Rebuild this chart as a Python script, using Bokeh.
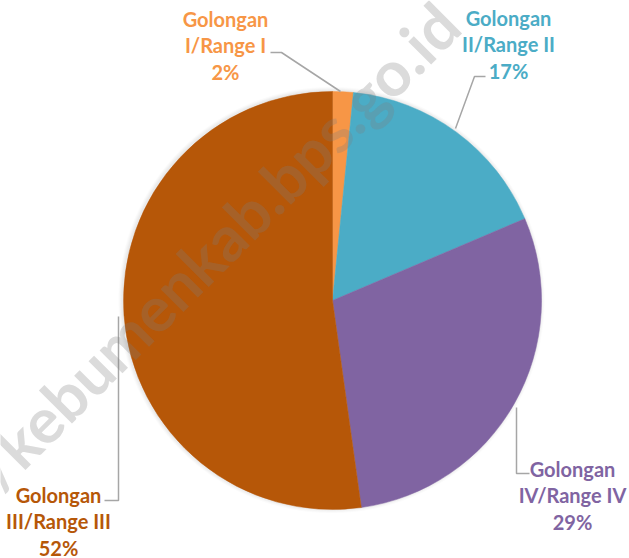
import math
from bokeh.plotting import figure
from bokeh.models import Range1d, ColumnDataSource
from bokeh.core.properties import value
from bokeh.embed import file_html
from bokeh.resources import INLINE

# ---- data ----
categories = ["Golongan I/Range I", "Golongan II/Range II", "Golongan IV/Range IV", "Golongan III/Range III"]
label_line1 = ["Golongan", "Golongan", "Golongan", "Golongan"]
label_line2 = ["I/Range I", "II/Range II", "IV/Range IV", "III/Range III"]
shares = [1.6, 17.0, 29.2, 52.2]
colors = ["#F79646", "#4BACC6", "#8064A2", "#B65708"]
watermark = "https://kebumenkab.bps.go.id"

W, H = 629, 558


def Y(py):
    return H - py  # flip so that y grows upward


p = figure(width=W, height=H, output_backend="svg", toolbar_location=None,
           x_range=Range1d(0, W), y_range=Range1d(0, H),
           min_border=0, outline_line_color=None, background_fill_color="white",
           border_fill_color="white")
p.axis.visible = False
p.grid.visible = False

cx, cy, R = 332, Y(300), 209

# soft shadow
for i, a in enumerate([0.05, 0.05, 0.04, 0.03]):
    p.circle(x=[cx - 1], y=[cy + 0.5], radius=R + 1 + i, fill_color="#808080",
             fill_alpha=a, line_color=None)

total = sum(shares)
starts, ends = [], []
cum = 0.0
for s in shares:
    starts.append(math.pi / 2 - 2 * math.pi * cum / total)
    cum += s
    ends.append(math.pi / 2 - 2 * math.pi * cum / total)

src = ColumnDataSource(dict(start=starts, end=ends, color=colors, cat=categories))
p.wedge(x=cx, y=cy, radius=R, start_angle="start", end_angle="end", direction="clock",
        fill_color="color", line_color="color", line_width=0.5, source=src)

# leader lines (reference pixel coordinates)
leaders = [
    [(270, 52), (281, 52), (340, 91)],
    [(485, 76), (474, 76), (455, 128)],
    [(104, 500), (118, 500), (118, 316)],
    [(529, 473), (516, 473), (516, 407)],
]
for pts in leaders:
    p.line(x=[q[0] for q in pts], y=[Y(q[1]) for q in pts], line_color="#A6A6A6", line_width=1.5)

# labels
label_pos = [(225, 18), (508, 17), (572, 468), (58, 494)]
LH = 26.5
pct = ["%d%%" % round(s) for s in shares]
for i in range(len(categories)):
    x0, y0 = label_pos[i]
    lines = [label_line1[i], label_line2[i], pct[i]]
    p.text(x=[x0] * 3, y=[Y(y0 + k * LH) for k in range(3)], text=lines,
           text_color=colors[i], text_font=value("Lato"), text_font_style="bold",
           text_font_size="20px", text_align="center", text_baseline="middle")

# watermark
p.text(x=[447], y=[Y(13)], text=[watermark], angle=math.pi / 4,
       text_color="#7f7f7f", text_alpha=0.28, text_font=value("Lato"),
       text_font_style="bold", text_font_size="63px", text_align="right",
       text_baseline="middle")

open("out.html", "w").write(file_html(p, INLINE))
